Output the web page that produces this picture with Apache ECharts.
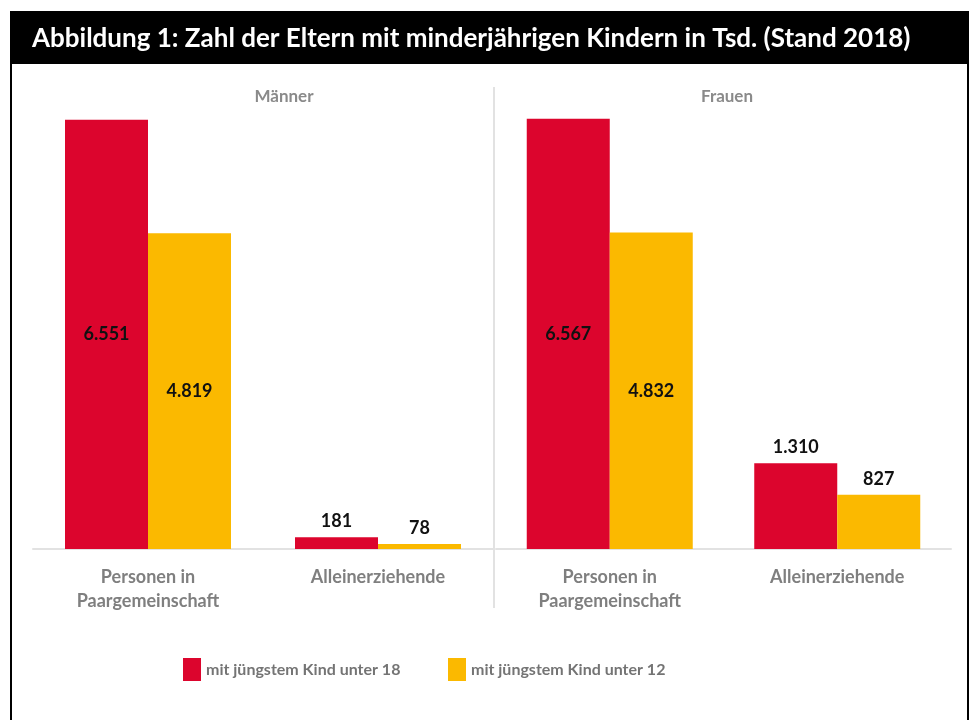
<!DOCTYPE html>
<html>
<head>
<meta charset="utf-8">
<script src="https://cdn.jsdelivr.net/npm/echarts@6/dist/echarts.min.js"></script>
<style>
  html, body { margin: 0; padding: 0; background: #fff; }
  #chart { width: 973px; height: 720px; }
</style>
</head>
<body>
<div id="chart"></div>
<script>
// data (Tsd.)
const categories = ['Personen in\nPaargemeinschaft', 'Alleinerziehende'];
const panels = ['Männer', 'Frauen'];
const seriesNames = ['mit jüngstem Kind unter 18', 'mit jüngstem Kind unter 12'];
const maenner18 = [6551, 181];
const maenner12 = [4819, 78];
const frauen18 = [6567, 1310];
const frauen12 = [4832, 827];

const RED = '#dc052d';
const YELLOW = '#fbb900';
const FONT = 'Lato';

const fmt = v => String(v).replace(/\B(?=(\d{3})+(?!\d))/g, '.');

function barData(values) {
  return values.map(v => ({
    value: v,
    label: { position: v > 3000 ? 'inside' : 'top', distance: 7 }
  }));
}

function makeSeries(name, values, color, idx) {
  return {
    name: name,
    type: 'bar',
    xAxisIndex: idx,
    yAxisIndex: idx,
    barWidth: 83,
    barGap: '0%',
    itemStyle: { color: color },
    label: {
      show: true,
      color: '#111',
      fontFamily: FONT,
      fontWeight: 'bold',
      fontSize: 18,
      formatter: p => fmt(p.value)
    },
    data: barData(values)
  };
}

const chart = echarts.init(document.getElementById('chart'));

const xAxisBase = (gi) => ({
  type: 'category',
  gridIndex: gi,
  data: categories,
  axisTick: { show: false },
  axisLine: { lineStyle: { color: '#e2e2e2', width: 2 } },
  axisLabel: {
    color: '#7f7f7f',
    fontFamily: FONT,
    fontWeight: 'bold',
    fontSize: 18,
    lineHeight: 24,
    margin: 16
  }
});

const yAxisBase = (gi) => ({
  type: 'value',
  gridIndex: gi,
  min: 0,
  max: 6700,
  show: false,
  splitLine: { show: false }
});

const legendText = { color: '#747474', fontFamily: FONT, fontWeight: 'bold', fontSize: 16 };

const option = {
  animation: false,
  backgroundColor: '#fff',
  grid: [
    { left: 33, width: 460, top: 110, bottom: 171 },
    { left: 496, width: 455, top: 110, bottom: 171 }
  ],
  xAxis: [xAxisBase(0), xAxisBase(1)],
  yAxis: [yAxisBase(0), yAxisBase(1)],
  legend: [
    {
      data: [seriesNames[0]], left: 178, top: 653,
      itemWidth: 18, itemHeight: 23, icon: 'rect',
      textStyle: legendText
    },
    {
      data: [seriesNames[1]], left: 443, top: 653,
      itemWidth: 18, itemHeight: 23, icon: 'rect',
      textStyle: legendText
    }
  ],
  title: [
    {
      text: 'Abbildung 1: Zahl der Eltern mit minderjährigen Kindern in Tsd. (Stand 2018)',
      left: 27, top: 21,
      textStyle: { color: '#fff', fontFamily: FONT, fontWeight: 'bold', fontSize: 26 }
    },
    {
      text: panels[0], left: 279, top: 83, textAlign: 'center',
      textStyle: { color: '#8a8a8a', fontFamily: FONT, fontWeight: 'bold', fontSize: 17 }
    },
    {
      text: panels[1], left: 722, top: 83, textAlign: 'center',
      textStyle: { color: '#8a8a8a', fontFamily: FONT, fontWeight: 'bold', fontSize: 17 }
    }
  ],
  graphic: [
    { type: 'rect', z: -1, shape: { x: 10, y: 11, width: 959, height: 53 }, style: { fill: '#000' } },
    { type: 'line', shape: { x1: 11, y1: 11, x2: 11, y2: 720 }, style: { stroke: '#000', lineWidth: 2 } },
    { type: 'line', shape: { x1: 968, y1: 11, x2: 968, y2: 720 }, style: { stroke: '#000', lineWidth: 2 } },
    { type: 'line', shape: { x1: 494, y1: 87, x2: 494, y2: 608 }, style: { stroke: '#e2e2e2', lineWidth: 2 } }
  ],
  series: [
    makeSeries(seriesNames[0], maenner18, RED, 0),
    makeSeries(seriesNames[1], maenner12, YELLOW, 0),
    makeSeries(seriesNames[0], frauen18, RED, 1),
    makeSeries(seriesNames[1], frauen12, YELLOW, 1)
  ]
};

chart.setOption(option);
</script>
</body>
</html>
